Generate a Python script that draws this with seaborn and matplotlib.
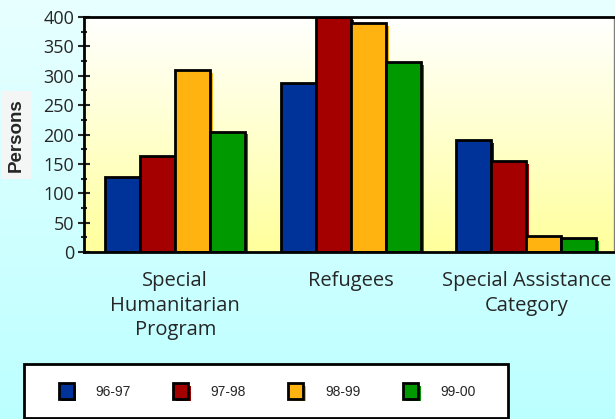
import matplotlib
matplotlib.use('Agg')
import numpy as np
import pandas as pd
import seaborn as sns
import matplotlib.pyplot as plt
import matplotlib.patheffects as pe
from matplotlib.colors import LinearSegmentedColormap
from matplotlib.patches import Patch, Rectangle
from matplotlib.ticker import MultipleLocator

# data
categories = ['Special\nHumanitarian\nProgram', 'Refugees', 'Special Assistance\nCategory']
years = ['96-97', '97-98', '98-99', '99-00']
persons_9697 = [128, 287, 191]
persons_9798 = [164, 400, 155]
persons_9899 = [309, 390, 27]
persons_9900 = [205, 323, 23]
colors = ['#003399', '#a50000', '#ffb311', '#009900']

series = [persons_9697, persons_9798, persons_9899, persons_9900]
df = pd.DataFrame({
    'category': categories * len(years),
    'year': [y for y in years for _ in categories],
    'persons': [v for s in series for v in s],
})

sns.set_style('white')
plt.rcParams['font.family'] = ['Open Sans', 'DejaVu Sans']

fig = plt.figure(figsize=(6.15, 4.19), dpi=100)

# cyan gradient behind everything
bg = fig.add_axes([0, 0, 1, 1])
bg_cmap = LinearSegmentedColormap.from_list('bg', ['#bcffff', '#e8ffff'])
bg.imshow(np.linspace(0, 1, 256).reshape(-1, 1), cmap=bg_cmap, origin='lower',
          aspect='auto', extent=[0, 1, 0, 1])
bg.axis('off')

ax = fig.add_axes([84 / 615, 1 - 252 / 419, 530 / 615, 235 / 419])
ax.patch.set_alpha(0)

sns.barplot(data=df, x='category', y='persons', hue='year', palette=colors,
            saturation=1, edgecolor='black', linewidth=2, width=0.8, gap=0,
            legend=False, ax=ax, zorder=2)

# drop shadow in the bar's own colour
for bar in ax.patches:
    bar.set_path_effects([pe.SimplePatchShadow(offset=(2, -2), shadow_rgbFace=bar.get_facecolor(), alpha=1),
                          pe.Normal()])

# white to yellow gradient inside the plot area
plot_cmap = LinearSegmentedColormap.from_list('plot', ['#ffff9c', '#ffffff'])
ax.imshow(np.linspace(0, 1, 256).reshape(-1, 1), cmap=plot_cmap, origin='lower',
          aspect='auto', extent=[0, 1, 0, 1], transform=ax.transAxes, zorder=0)

ax.set_xlim(-0.52, 2.5)
ax.set_ylim(0, 400)
ax.yaxis.set_major_locator(MultipleLocator(50))
ax.yaxis.set_minor_locator(MultipleLocator(25))
ax.tick_params(axis='y', which='major', direction='inout', length=8, width=1.5,
               labelsize=13, pad=3, left=True)
ax.tick_params(axis='y', which='minor', direction='inout', length=5, width=1.5, left=True)
ax.tick_params(axis='x', length=0, labelsize=14.5, pad=14)
for lbl in ax.get_xticklabels():
    lbl.set_linespacing(1.3)
ax.set_xlabel('')
ax.set_ylabel('')
for side in ['left', 'bottom', 'top']:
    ax.spines[side].set_color('black')
    ax.spines[side].set_linewidth(2)
ax.spines['right'].set_color('#808080')
ax.spines['right'].set_linewidth(1)

fig.text(16 / 615, 1 - 135 / 419, 'Persons', rotation=90, ha='center', va='center',
         fontsize=13.5, fontweight='bold', family=['Liberation Sans', 'DejaVu Sans'],
         bbox=dict(facecolor='#f4f6f6', edgecolor='none', pad=5))

# legend box
fig.patches.append(Rectangle((24 / 615, 1 - 418 / 419), 484 / 615, 54 / 419,
                             transform=fig.transFigure, facecolor='white',
                             edgecolor='black', linewidth=2, zorder=1))
handles = [Patch(facecolor=c, edgecolor='black', linewidth=2,
                 path_effects=[pe.SimplePatchShadow(offset=(2, -2), shadow_rgbFace=c, alpha=1), pe.Normal()])
           for c in colors]
leg = fig.legend(handles, years, loc='center', bbox_to_anchor=(267 / 615, 1 - 391 / 419),
                 ncol=4, frameon=False, handlelength=1.08, handleheight=1.3,
                 handletextpad=1.58, columnspacing=3.06,
                 prop={'family': ['Liberation Sans', 'DejaVu Sans'], 'size': 10})
leg.set_zorder(2)

fig.savefig('out.png', dpi=100)
